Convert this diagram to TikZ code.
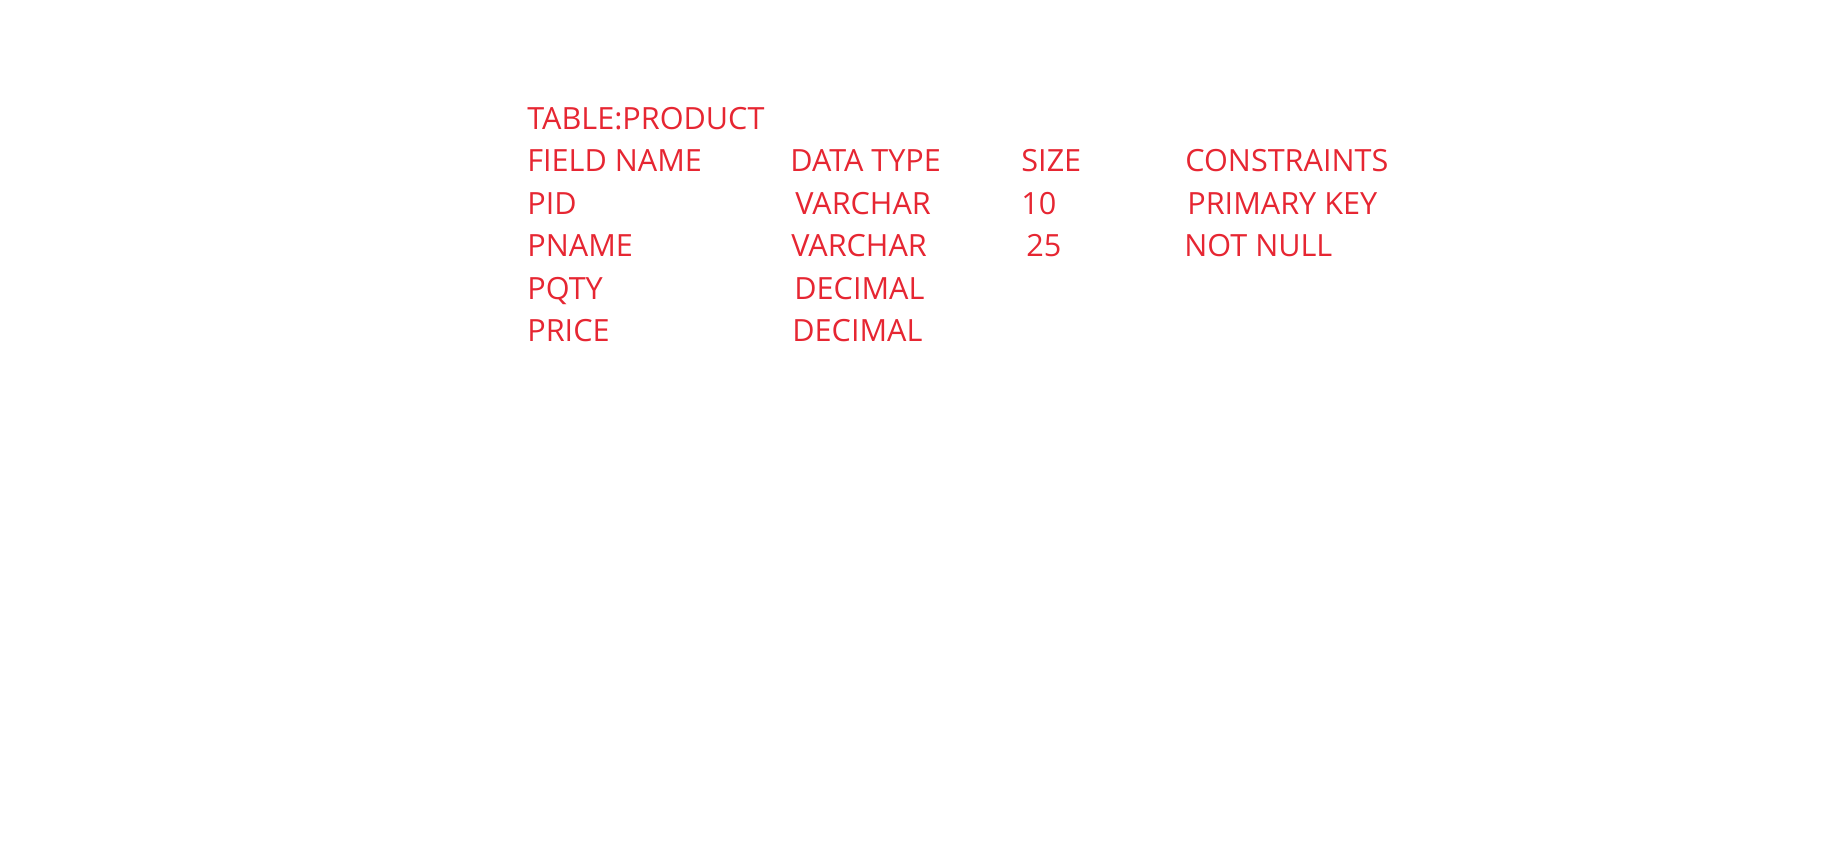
\documentclass[tikz,border=0pt]{standalone}
\usepackage{fontspec}
\setmainfont{Open Sans}
\usetikzlibrary{positioning}
\definecolor{tabred}{RGB}{230,38,50}

\begin{document}
\begin{tikzpicture}[
        x=0.5pt, y=-0.5pt,
        cell/.style={anchor=base west, inner sep=0pt, text=tabred, font=\fontsize{15.3}{17}\selectfont}
    ]
        \useasboundingbox (0,0) rectangle (1831,846);

        \node[cell] (title) at (527,129) {TABLE:PRODUCT};

        \node[cell] (fieldHead) at (527,171.5) {FIELD NAME};
        \node[cell] (typeHead) at (790,171.5) {DATA TYPE};
        \node[cell] (sizeHead) at (1021,171.5) {SIZE};
        \node[cell] (consHead) at (1185,171.5) {CONSTRAINTS};

        \node[cell] (pid) at (527,214) {PID};
        \node[cell] (pidType) at (795,214) {VARCHAR};
        \node[cell] (pidSize) at (1021,214) {10};
        \node[cell] (pidCons) at (1187,214) {PRIMARY KEY};

        \node[cell] (pname) at (527,256.5) {PNAME};
        \node[cell] (pnameType) at (791,256.5) {VARCHAR};
        \node[cell] (pnameSize) at (1026,256.5) {25};
        \node[cell] (pnameCons) at (1184,256.5) {NOT NULL};

        \node[cell] (pqty) at (527,299) {PQTY};
        \node[cell] (pqtyType) at (794,299) {DECIMAL};

        \node[cell] (price) at (527,341.5) {PRICE};
        \node[cell] (priceType) at (792,341.5) {DECIMAL};
    \end{tikzpicture}
\end{document}
